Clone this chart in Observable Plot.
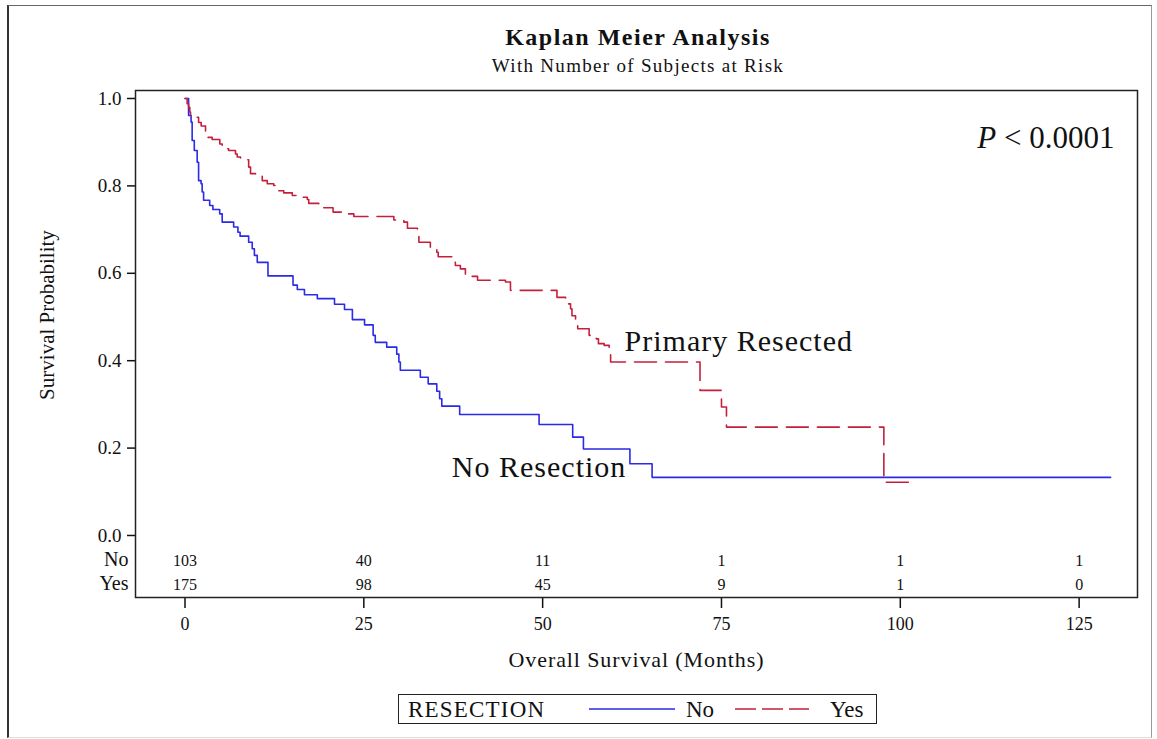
<!DOCTYPE html>
<html><head><meta charset="utf-8">
<script src="https://cdn.jsdelivr.net/npm/d3@7"></script>
<script src="https://cdn.jsdelivr.net/npm/@observablehq/plot@0.6"></script>
<style>
body{margin:0;background:#fff;}
#wrap{position:relative;width:1157px;height:739px;overflow:hidden;font-family:"Liberation Serif","Times New Roman",serif;color:#111;}
#border{position:absolute;left:7px;top:5px;width:1145px;height:733px;border-left:2px solid #333;border-top:1.5px solid #666;border-right:1px solid #999;border-bottom:1px solid #ddd;box-sizing:border-box;}
.ttl{position:absolute;left:138px;width:1000px;text-align:center;line-height:1;white-space:nowrap;}
#title{top:25px;font-size:24px;font-weight:bold;letter-spacing:1.5px;}
#subtitle{top:56px;font-size:19px;letter-spacing:1.3px;}
#chart{position:absolute;left:0;top:0;}
#legend{position:absolute;left:398px;top:694px;width:479px;height:30px;border:1.5px solid #222;box-sizing:border-box;font-size:23px;line-height:1;}
#legend span{position:absolute;top:3px;white-space:nowrap;}
#legend svg{position:absolute;top:0;left:0;}
.wide{letter-spacing:1px;}
.wide2{letter-spacing:0.9px;}
</style></head>
<body>
<div id="wrap">
  <div id="border"></div>
  <div id="title" class="ttl">Kaplan Meier Analysis</div>
  <div id="subtitle" class="ttl">With Number of Subjects at Risk</div>
  <div id="chart"></div>
  <div id="legend">
    <span style="left:9px;letter-spacing:1.2px">RESECTION</span>
    <svg width="476" height="27">
      <line x1="190" x2="276" y1="14" y2="14" stroke="#2a2ae8" stroke-width="1.6"/>
      <line x1="336" x2="410" y1="14" y2="14" stroke="#c4203c" stroke-width="1.6" stroke-dasharray="21,6"/>
    </svg>
    <span style="left:287px">No</span>
    <span style="left:431px">Yes</span>
  </div>
</div>
<script>
// Kaplan-Meier step data: "No" (no resection)
const noTime = [0,0.5,0.85,1.0,1.3,1.7,1.9,2.25,2.4,2.6,3.45,3.9,4.85,5.2,6.8,7.4,7.7,8.9,9.4,9.7,10.1,11.6,15.1,15.7,16.7,18.5,20.9,22.3,23.4,25.1,26.3,26.6,28.2,29.6,29.9,30.1,32.9,34.0,35.2,35.6,35.9,38.4,49.5,54.2,55.7,62.2,65.3,129.4];
const noSurv = [1.0,0.961,0.946,0.904,0.881,0.854,0.812,0.805,0.786,0.767,0.755,0.746,0.736,0.717,0.706,0.694,0.685,0.671,0.656,0.641,0.625,0.594,0.573,0.563,0.551,0.542,0.529,0.517,0.494,0.482,0.458,0.442,0.431,0.415,0.397,0.378,0.362,0.347,0.330,0.313,0.296,0.277,0.254,0.225,0.198,0.164,0.133,0.133];
// "Yes" (primary resected)
const yesTime = [0,0.3,0.5,0.67,0.77,1.9,2.26,2.87,3.1,3.8,4.87,5.2,6.1,7.06,7.3,7.76,8.9,9.16,9.86,10.8,11.5,12.4,13.1,13.8,15.0,15.9,17.1,17.3,18.7,18.9,20.7,22.0,23.6,29.2,30.6,31.1,32.5,32.7,34.3,35.2,35.4,37.4,37.8,38.5,39.2,40.9,44.8,45.5,52.0,53.2,53.9,54.1,54.6,54.9,56.5,57.5,57.8,58.6,59.3,59.5,72.0,75.0,75.7,97.7,101.2];
const yesSurv = [1.0,0.988,0.98,0.969,0.957,0.945,0.937,0.923,0.911,0.906,0.896,0.885,0.881,0.873,0.866,0.860,0.843,0.828,0.824,0.812,0.805,0.801,0.789,0.784,0.778,0.774,0.769,0.760,0.755,0.750,0.740,0.736,0.730,0.722,0.717,0.703,0.690,0.671,0.660,0.648,0.638,0.625,0.618,0.610,0.593,0.584,0.580,0.561,0.545,0.530,0.519,0.503,0.488,0.473,0.458,0.450,0.439,0.435,0.416,0.397,0.332,0.294,0.248,0.122,0.122];
// Number at risk table
const riskTimes = [0,25,50,75,100,125];
const riskNo = [103,40,11,1,1,1];
const riskYes = [175,98,45,9,1,0];
const riskGroups = ["No","Yes"];
// Axis ticks
const xTicks = [0,25,50,75,100,125];
const yTicks = [0,0.2,0.4,0.6,0.8,1.0];
// Curve annotations (label, time, survival)
const annText = ["Primary Resected","No Resection"];
const annTime = [61.45,61.7];
const annSurv = [0.444,0.156];

const BLUE = "#2a2ae8", RED = "#c4203c";
const noData = noTime.map((t,i)=>({t, s:noSurv[i]}));
const yesData = yesTime.map((t,i)=>({t, s:yesSurv[i]}));
const riskNoData = riskTimes.map((t,i)=>({t, n:riskNo[i]}));
const riskYesData = riskTimes.map((t,i)=>({t, n:riskYes[i]}));
const ann = annText.map((text,i)=>({text, t:annTime[i], s:annSurv[i]}));

const chart = Plot.plot({
  width:1157, height:739,
  marginLeft:135, marginRight:20, marginTop:90, marginBottom:142,
  style:{fontFamily:'"Liberation Serif","Times New Roman",serif', fontSize:"18px", color:"#111", background:"transparent", overflow:"visible"},
  x:{domain:[-6.92,133.16]},
  y:{domain:[-0.1419,1.0183]},
  marks:[
    Plot.axisY({ticks:yTicks, tickFormat:d3.format(".1f"), tickSize:8, tickPadding:6, label:null, fontSize:19, strokeWidth:1.5}),
    Plot.axisX({ticks:xTicks, tickSize:11, tickPadding:9, label:null, fontSize:18, strokeWidth:1.5}),
    Plot.line(noData, {x:"t", y:"s", curve:"step-after", stroke:BLUE, strokeWidth:1.6}),
    Plot.line(yesData, {x:"t", y:"s", curve:"step-after", stroke:RED, strokeWidth:1.6, strokeDasharray:"22,9"}),
    Plot.text(riskNoData, {x:"t", text:"n", frameAnchor:"bottom", dy:-32, fontSize:16}),
    Plot.text(riskYesData, {x:"t", text:"n", frameAnchor:"bottom", dy:-8, fontSize:16}),
    Plot.text([riskGroups[0]], {text:d=>d, frameAnchor:"bottom-left", dx:-7, dy:-32, textAnchor:"end", fontSize:20}),
    Plot.text([riskGroups[1]], {text:d=>d, frameAnchor:"bottom-left", dx:-7, dy:-8, textAnchor:"end", fontSize:20}),
    Plot.text([ann[0]], {x:"t", y:"s", text:"text", textAnchor:"start", fontSize:30, className:"wide"}),
    Plot.text([ann[1]], {x:"t", y:"s", text:"text", textAnchor:"end", fontSize:30, className:"wide"}),
    Plot.text(["P < 0.0001"], {text:d=>d, frameAnchor:"top-right", dx:-23, dy:35, textAnchor:"end", fontSize:31, className:"pval"}),
    Plot.text(["Overall Survival (Months)"], {text:d=>d, frameAnchor:"bottom", dy:69, fontSize:22, className:"wide2"}),
    Plot.text(["Survival Probability"], {text:d=>d, frameAnchor:"left", rotate:-90, textAnchor:"middle", dx:-88, dy:-29, fontSize:21}),
    Plot.frame({stroke:"#222", strokeWidth:1.5})
  ]
});
document.getElementById("chart").appendChild(chart);
// italic P in the p-value annotation
chart.querySelectorAll("g.pval text").forEach(el=>{
  el.textContent = "";
  const ns = "http://www.w3.org/2000/svg";
  const p = document.createElementNS(ns,"tspan"); p.setAttribute("font-style","italic"); p.textContent="P";
  const r = document.createElementNS(ns,"tspan"); r.textContent=" < 0.0001";
  el.appendChild(p); el.appendChild(r);
});
</script>
</body></html>
